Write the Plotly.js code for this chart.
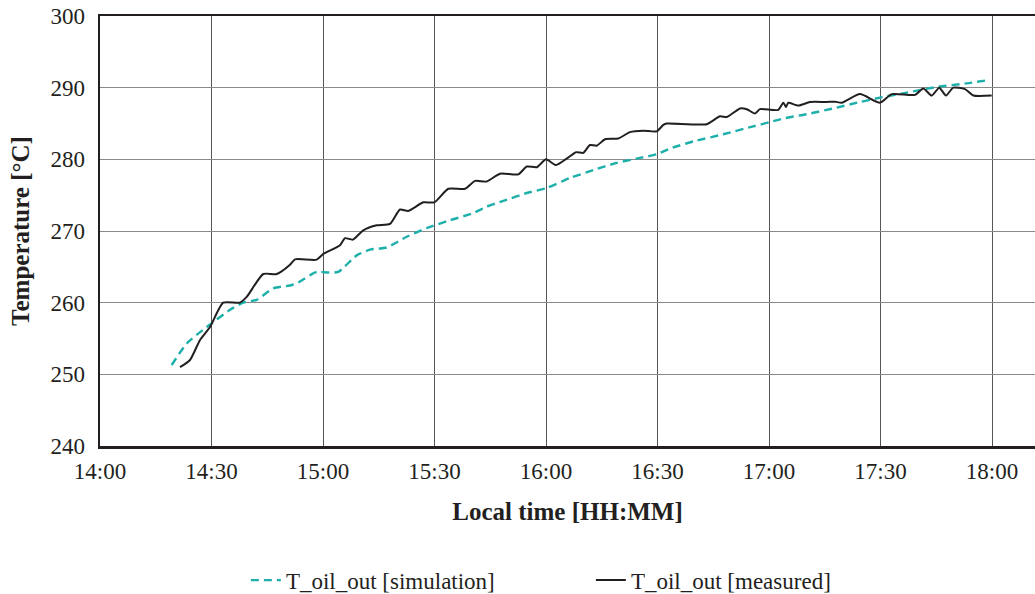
<!DOCTYPE html>
<html>
<head>
<meta charset="utf-8">
<script src="https://cdn.plot.ly/plotly-3.0.1.min.js"></script>
<style>
html,body{margin:0;padding:0;background:#fff;}
#chart{width:1035px;height:594px;}
</style>
</head>
<body>
<div id="chart"></div>
<script>
const day = "2020-01-01 ";

const simTimes = ["14:19:17","14:23:20","14:28:43","14:34:59","14:38:33","14:42:10","14:46:38","14:51:07","14:52:55","14:58:18","15:01:26","15:04:07","15:09:04","15:12:39","15:17:08","15:22:31","15:27:54","15:34:10","15:40:26","15:44:02","15:48:31","15:54:49","16:00:11","16:06:28","16:12:44","16:19:01","16:25:17","16:29:47","16:33:22","16:39:38","16:47:42","16:55:46","17:00:16","17:03:51","17:10:08","17:17:18","17:24:29","17:29:52","17:37:03","17:45:07","17:53:11","17:59:30"];
const simValues = [251.3,254.3,256.6,259.0,260.0,260.4,262.0,262.4,262.7,264.3,264.2,264.3,266.6,267.4,267.7,269.2,270.4,271.5,272.5,273.4,274.2,275.3,276.0,277.4,278.5,279.5,280.2,280.7,281.5,282.5,283.5,284.6,285.2,285.7,286.3,287.1,288.0,288.6,289.3,290.1,290.6,291.1];

const measTimes = ["14:21:31","14:24:13","14:26:55","14:29:36","14:33:10","14:37:40","14:39:28","14:43:56","14:47:32","14:51:07","14:52:28","14:58:18","15:00:05","15:04:34","15:05:55","15:08:04","15:10:50","15:14:27","15:18:02","15:20:43","15:22:57","15:26:59","15:29:57","15:33:43","15:38:13","15:40:54","15:44:02","15:47:37","15:52:33","15:54:49","15:57:30","16:00:00","16:02:41","16:05:34","16:08:04","16:10:02","16:11:50","16:13:38","16:15:53","16:19:27","16:22:36","16:26:11","16:29:47","16:31:34","16:32:28","16:43:14","16:46:49","16:48:38","16:52:12","16:54:00","16:56:14","16:57:35","17:02:30","17:03:51","17:04:35","17:05:11","17:07:53","17:11:02","17:15:31","17:17:46","17:19:34","17:24:29","17:29:52","17:33:01","17:39:17","17:41:31","17:43:46","17:45:49","17:47:37","17:49:35","17:52:44","17:54:58","17:59:55"];
const measValues = [251.0,252.0,254.8,256.6,260.0,260.0,260.8,264.0,264.0,265.3,266.05,266.0,266.8,268.0,269.0,268.8,270.1,270.8,271.0,273.0,272.8,274.0,274.0,275.9,275.9,277.0,276.9,278.0,277.9,279.0,278.9,280.0,279.2,280.1,281.0,280.9,282.0,281.9,282.8,282.9,283.8,284.0,283.9,284.8,285.0,284.9,286.0,285.9,287.1,287.0,286.4,287.0,286.9,287.9,287.3,287.9,287.5,288.0,288.0,288.05,287.9,289.1,287.9,289.1,289.0,289.9,288.9,290.0,288.9,290.0,289.8,288.9,288.9];

const xTickVals = ["14:00","14:30","15:00","15:30","16:00","16:30","17:00","17:30","18:00"];
const yTickVals = [240,250,260,270,280,290,300];

const FONT_FAMILY = "serif";
const INK = "#231f20";

const traces = [
  {
    x: simTimes.map(t => day + t), y: simValues, type: "scatter", mode: "lines",
    name: "T_oil_out [simulation]",
    line: {color: "#1db0aa", width: 2.4, dash: "8px,5px", shape: "spline", smoothing: 0.6}
  },
  {
    x: measTimes.map(t => day + t), y: measValues, type: "scatter", mode: "lines",
    name: "T_oil_out [measured]",
    line: {color: INK, width: 2, shape: "spline", smoothing: 0.6}
  }
];

const layout = {
  width: 1035, height: 594,
  margin: {l: 100, r: 0, t: 16, b: 148, autoexpand: false},
  paper_bgcolor: "#fff", plot_bgcolor: "#fff",
  font: {family: FONT_FAMILY, size: 23, color: INK},
  showlegend: true,
  legend: {orientation: "h", x: 0.525, xanchor: "center", y: -0.312, yanchor: "middle",
           font: {family: FONT_FAMILY, size: 23, color: INK}, entrywidth: 300},
  xaxis: {
    type: "date",
    range: [day + "14:00:00", day + "18:11:34"],
    tickvals: xTickVals.map(t => day + t), ticktext: xTickVals,
    showgrid: true, gridcolor: "#555", gridwidth: 1,
    showline: true, linecolor: INK, linewidth: 2.5, mirror: true,
    ticks: "outside", ticklen: 3, tickcolor: "#fff", tickwidth: 0.1,
    zeroline: false,
    tickfont: {family: FONT_FAMILY, size: 23, color: INK},
    title: {text: "<b>Local time [HH:MM]</b>", font: {family: FONT_FAMILY, size: 25, color: INK}, standoff: 20}
  },
  yaxis: {
    range: [240, 300],
    tickvals: yTickVals,
    showgrid: true, gridcolor: "#8a8a8a", gridwidth: 1,
    showline: true, linecolor: INK, linewidth: 2.5, mirror: false,
    ticks: "outside", ticklen: 8, tickcolor: "#fff", tickwidth: 0.1,
    zeroline: false,
    tickfont: {family: FONT_FAMILY, size: 23, color: INK},
    title: {text: "<b>Temperature [°C]</b>", font: {family: FONT_FAMILY, size: 25, color: INK}, standoff: 14}
  }
};

Plotly.newPlot("chart", traces, layout, {displayModeBar: false, staticPlot: true});
</script>
</body>
</html>
